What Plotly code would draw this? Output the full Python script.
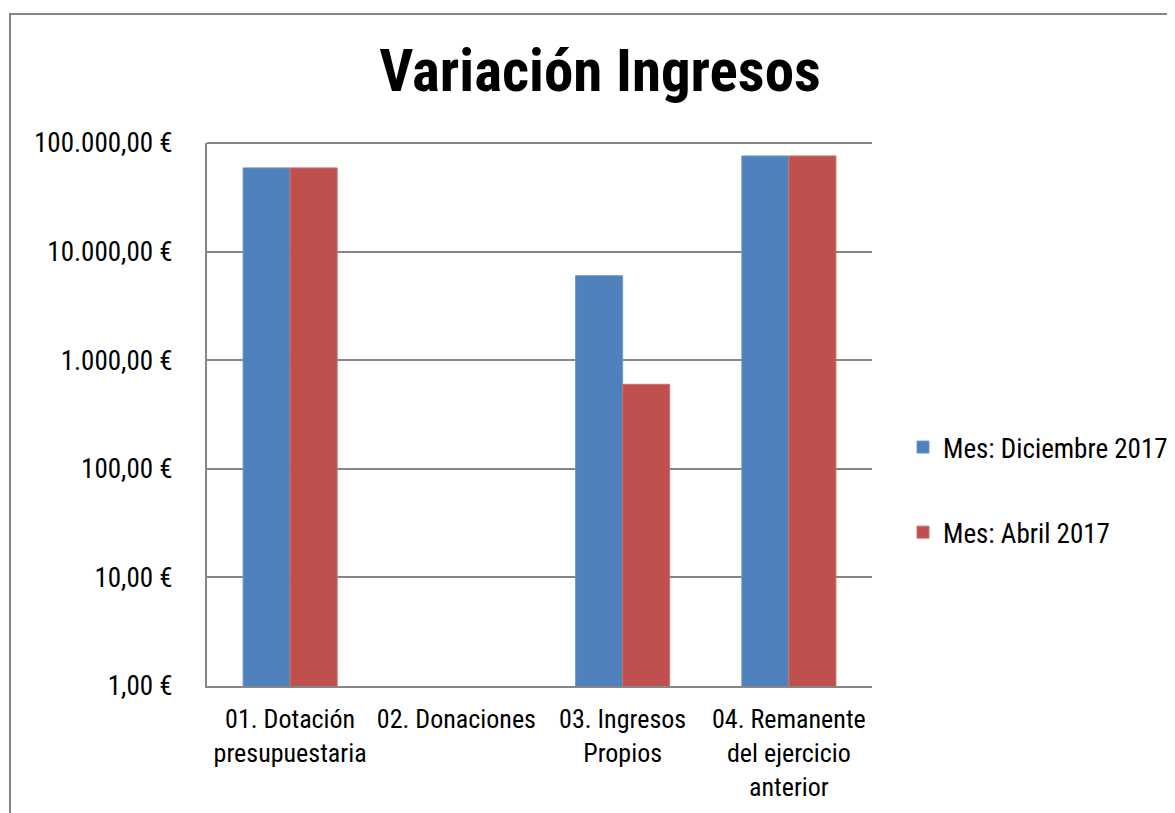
import plotly.graph_objects as go

categories = ["01. Dotación<br>presupuestaria", "02. Donaciones",
              "03. Ingresos<br>Propios", "04. Remanente<br>del ejercicio<br>anterior"]
dic_2017 = [59000, None, 6000, 76000]
abr_2017 = [59000, None, 600, 76000]
tick_vals = [1, 10, 100, 1000, 10000, 100000]
tick_text = ["1,00 €", "10,00 €", "100,00 €", "1.000,00 €", "10.000,00 €", "100.000,00 €"]

FONT = "Liberation Sans Narrow, Arial Narrow, Roboto Condensed, sans-serif"

fig = go.Figure()
fig.add_trace(go.Bar(x=categories, y=dic_2017, name="Mes: Diciembre 2017",
                     marker=dict(color="#4F81BD", line=dict(color="#6F96C8", width=1)),
                     legendgroup="a"))
fig.add_trace(go.Bar(x=categories, y=abr_2017, name="Mes: Abril 2017",
                     marker=dict(color="#C0504D", line=dict(color="#CE6E6B", width=1)),
                     legendgroup="b"))

OFF = 8  # page body margin
W, H = 1175 - OFF, 813 - OFF
L, R, T, B = 207 - OFF, 872 - OFF, 143 - OFF, 686 - OFF
pw, ph = R - L, B - T

def px(x):
    return (x - OFF - L) / pw

def py(y):
    return (B - (y - OFF)) / ph

fig.update_layout(
    width=W, height=H,
    margin=dict(l=L, r=W - R, t=T, b=H - B, pad=0, autoexpand=False),
    paper_bgcolor="white", plot_bgcolor="white",
    font=dict(family=FONT, size=27, color="black"),
    title=dict(text="<b>Variación Ingresos</b>", font=dict(family=FONT, size=59, color="black"),
               x=(600 - OFF) / W, xref="container", xanchor="center",
               y=1 - (70 - OFF) / H, yref="container", yanchor="middle"),
    barmode="group", bargap=0.434, bargroupgap=0,
    showlegend=True,
    legend=dict(x=px(903), y=py(490), xanchor="left", yanchor="middle",
                traceorder="grouped", tracegroupgap=47,
                font=dict(family=FONT, size=27, color="black"),
                bgcolor="rgba(0,0,0,0)"),
    xaxis=dict(showline=True, linecolor="#868686", linewidth=2, showgrid=False,
               ticks="", tickangle=0, automargin=False,
               tickfont=dict(family=FONT, size=26, color="black"),
               ticklabelstandoff=9),
    yaxis=dict(type="log", range=[0, 5], showline=True, linecolor="#868686", linewidth=2,
               showgrid=True, gridcolor="#868686", gridwidth=2, automargin=False,
               tickvals=tick_vals, ticktext=tick_text, ticks="",
               tickfont=dict(family=FONT, size=27, color="black"),
               ticklabelstandoff=27, zeroline=False),
    shapes=[
        dict(type="rect", xref="paper", yref="paper",
             x0=px(10), x1=px(1174), y0=py(830), y1=py(14),
             line=dict(color="#868686", width=2), fillcolor="rgba(0,0,0,0)",
             layer="below"),
        dict(type="line", xref="paper", yref="paper", x0=0, x1=1, y0=1, y1=1,
             line=dict(color="#868686", width=2), layer="below"),
    ],
)

fig.write_html("out.html")
